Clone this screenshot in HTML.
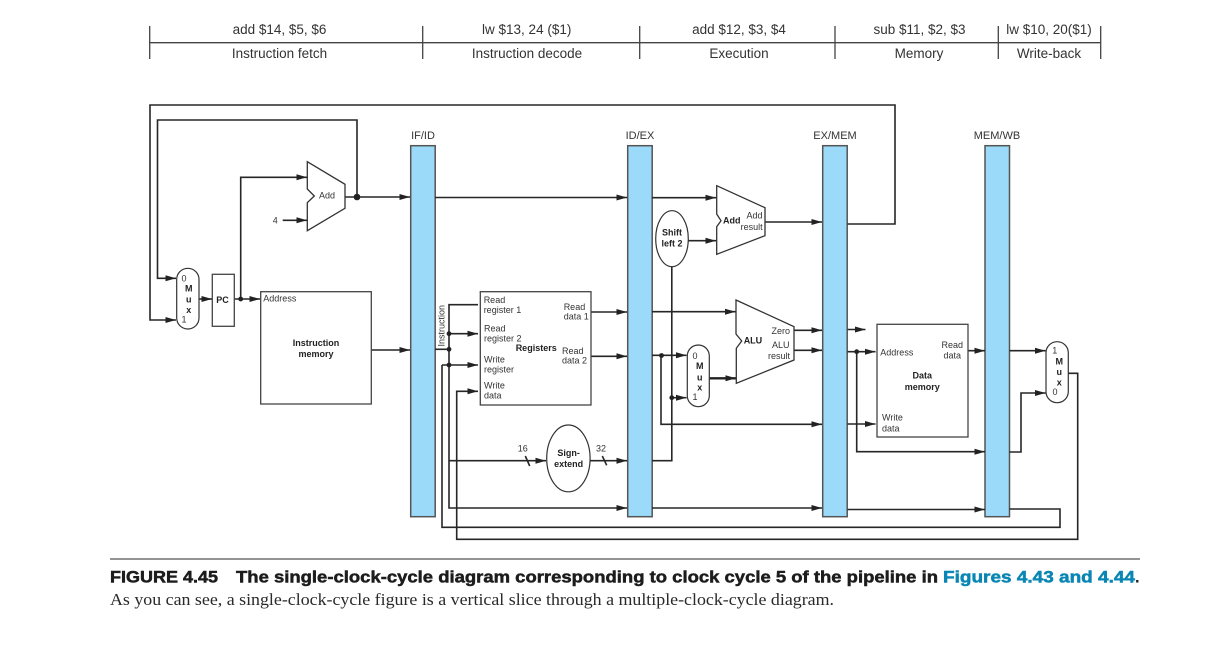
<!DOCTYPE html>
<html>
<head>
<meta charset="utf-8">
<title>Figure 4.45</title>
<style>
html,body{margin:0;padding:0;background:#fff;width:1215px;height:661px;overflow:hidden}
svg{display:block}
text{font-family:"Liberation Sans",sans-serif;fill:#333}
.h{font-size:13.5px;text-anchor:middle}
.r{font-size:11px;text-anchor:middle}
.s{font-size:9px}
.b{font-size:9px;font-weight:bold;fill:#222}
.m{text-anchor:middle}
.w{fill:none;stroke:#262626;stroke-width:1.6}
.a{marker-end:url(#a)}
.bar{fill:#9bdaf8;stroke:#555;stroke-width:1.5}
.box{fill:#fff;stroke:#444;stroke-width:1.3}
.d{fill:#222}
</style>
</head>
<body>
<svg width="1215" height="661" viewBox="0 0 1215 661" xmlns="http://www.w3.org/2000/svg">
<defs>
<marker id="a" markerUnits="userSpaceOnUse" markerWidth="12" markerHeight="8" refX="10.5" refY="4" orient="auto">
<path d="M0,1 L10.5,4 L0,7 Z" fill="#222"/>
</marker>
</defs>
<rect width="1215" height="661" fill="#fff"/>

<!-- top timeline -->
<g fill="none" stroke="#444" stroke-width="1.3">
<path d="M149.7,42.7H1100.7"/>
<path d="M149.7,26V59M422.7,26V59M639.7,26V59M835,26V59M998.3,26V59M1100.7,26V59"/>
</g>
<text class="h" x="279.5" y="34">add $14, $5, $6</text>
<text class="h" x="526.7" y="34">lw $13, 24 ($1)</text>
<text class="h" x="739" y="34">add $12, $3, $4</text>
<text class="h" x="919.5" y="34">sub $11, $2, $3</text>
<text class="h" x="1049" y="34">lw $10, 20($1)</text>
<text class="h" x="279.5" y="58">Instruction fetch</text>
<text class="h" x="527" y="58">Instruction decode</text>
<text class="h" x="739" y="58">Execution</text>
<text class="h" x="919" y="58">Memory</text>
<text class="h" x="1049" y="58">Write-back</text>

<!-- pipeline registers -->
<rect class="bar" x="410.7" y="145.7" width="24.5" height="371"/>
<rect class="bar" x="627.7" y="145.7" width="24.5" height="371"/>
<rect class="bar" x="822.7" y="145.7" width="24.5" height="371"/>
<rect class="bar" x="985" y="145.7" width="24.5" height="371"/>
<text class="r" x="423" y="139">IF/ID</text>
<text class="r" x="640" y="139">ID/EX</text>
<text class="r" x="835" y="139">EX/MEM</text>
<text class="r" x="997" y="139">MEM/WB</text>

<!-- wires -->
<g class="w">
<path d="M847.5,224H895V105H150V320H176" class="w a"/>
<path d="M357,197V120H157.5V278.3H176" class="w a"/>
<path d="M240.7,299V177.3H307" class="w a"/>
<path d="M282.7,220.3H307" class="w a"/>
<path d="M345,197H410" class="w a"/>
<path d="M199,299H212" class="w a"/>
<path d="M234.3,299H260" class="w a"/>
<path d="M371.3,350H410" class="w a"/>
<path d="M435,197.5H627" class="w a"/>
<path d="M435,349.3H449"/>
<path d="M478,304.7H449V508H627" class="w a"/>
<path d="M449,333.7H478" class="w a"/>
<path d="M449,365H478" class="w a"/>
<path d="M442,365H449M442,365V527.3H1060V509H1009.5"/>
<path d="M1068,373.3H1077.7V539.3H456.7V391.3H478" class="w a"/>
<path d="M591,312H627" class="w a"/>
<path d="M591,356.3H627" class="w a"/>
<path d="M449,460.7H546" class="w a"/>
<path d="M590,460.7H627" class="w a"/>
<path d="M525.3,456L529.7,466M602.3,456L606.7,465.3"/>
<path d="M652,197.7H716" class="w a"/>
<path d="M688,240.7H716" class="w a"/>
<path d="M652,460.7H671.8V266.7"/>
<path d="M671.8,397.7H686.5" class="w a"/>
<path d="M652,311.7H735.5" class="w a"/>
<path d="M652,355.3H686.5" class="w a"/>
<path d="M661,355.3V424.3H822" class="w a"/>
<path d="M652,508H822" class="w a"/>
<path d="M765,222H822" class="w a"/>
<path d="M794,330.3H822" class="w a"/>
<path d="M794,350.3H822" class="w a"/>
<path d="M847.5,329.5H865.5" class="w a"/>
<path d="M847.5,351.7H875.5" class="w a"/>
<path d="M856.7,351.7V451.7H985" class="w a"/>
<path d="M847.5,424H875.5" class="w a"/>
<path d="M847.5,509.5H985" class="w a"/>
<path d="M968,350.7H985" class="w a"/>
<path d="M1009.5,350.7H1045.5" class="w a"/>
<path d="M1009.5,452H1021V393H1045.5" class="w a"/>
</g>
<path d="M709,378.3H736" fill="none" stroke="#222" stroke-width="2.4" marker-end="url(#a)"/>

<!-- dots -->
<circle class="d" cx="357" cy="197" r="3.3"/>
<circle class="d" cx="240.7" cy="299" r="2.4"/>
<circle class="d" cx="449" cy="333.7" r="2.4"/>
<circle class="d" cx="449" cy="349.3" r="2.4"/>
<circle class="d" cx="449" cy="365" r="2.4"/>
<circle class="d" cx="661.5" cy="355.5" r="2.4"/>
<circle class="d" cx="671.8" cy="397.7" r="2.4"/>
<circle class="d" cx="856.7" cy="351.7" r="2.4"/>

<!-- adders / ALU -->
<g fill="#fff" stroke="#333" stroke-width="1.3">
<path d="M307.3,161.7L345,184.3V208.3L307.3,230.7V202.7L314.3,196L307.3,189Z"/>
<path d="M716.7,185.7L765,207.7V235.7L716.7,254.3V226.7L721,220.7L716.7,214Z"/>
<path d="M736,300L794,326.7V360L736.3,383.3V348.3L741.7,341L736,334Z"/>
</g>

<!-- boxes -->
<rect class="box" x="212.3" y="274.3" width="22" height="52"/>
<rect class="box" x="260.7" y="291.7" width="110.6" height="112.3"/>
<rect class="box" x="480.3" y="291.7" width="110.7" height="113.3"/>
<rect class="box" x="877" y="324.3" width="91" height="112.7"/>

<!-- muxes -->
<g fill="#fff" stroke="#333" stroke-width="1.2">
<rect x="176.7" y="268.3" width="22.3" height="60.7" rx="11.1" ry="11.1"/>
<rect x="687.3" y="345" width="22" height="61.7" rx="11" ry="11"/>
<rect x="1046" y="341.7" width="22.3" height="61" rx="11.1" ry="11.1"/>
<ellipse cx="672" cy="238.7" rx="16.3" ry="28"/>
<ellipse cx="568.4" cy="458.4" rx="21.7" ry="33.4"/>
</g>

<!-- labels -->
<text class="s m" x="327" y="198.7">Add</text>
<text class="s m" x="275.3" y="223.3">4</text>
<text class="s m" x="184" y="281.7">0</text>
<text class="b m" x="188.7" y="291.7">M</text>
<text class="b m" x="188.7" y="302.7">u</text>
<text class="b m" x="188.7" y="313">x</text>
<text class="s m" x="184" y="322.3">1</text>
<text class="b m" x="222.5" y="303">PC</text>
<text class="s" x="263.3" y="301.6">Address</text>
<text class="b m" x="316" y="346">Instruction</text>
<text class="b m" x="316" y="357">memory</text>
<text class="s" transform="translate(444.5,346.5) rotate(-90)">Instruction</text>

<text class="s" x="483.7" y="303">Read</text>
<text class="s" x="483.7" y="313">register 1</text>
<text class="s" x="484" y="331.7">Read</text>
<text class="s" x="484" y="341.7">register 2</text>
<text class="s" x="484" y="362.7">Write</text>
<text class="s" x="484" y="372.7">register</text>
<text class="s" x="484" y="388.7">Write</text>
<text class="s" x="484" y="398.7">data</text>
<text class="b" x="515.7" y="351">Registers</text>
<text class="s" x="563.7" y="310">Read</text>
<text class="s" x="563.7" y="319.3">data 1</text>
<text class="s" x="562" y="354">Read</text>
<text class="s" x="562" y="363.3">data 2</text>
<text class="b m" x="568.6" y="456">Sign-</text>
<text class="b m" x="568.6" y="467">extend</text>
<text class="s m" x="522.7" y="451.7">16</text>
<text class="s m" x="601" y="451.7">32</text>

<text class="b m" x="672" y="235.7">Shift</text>
<text class="b m" x="672" y="246.7">left 2</text>
<text class="b" x="723" y="223.7">Add</text>
<text class="s" x="762.5" y="218.7" text-anchor="end">Add</text>
<text class="s" x="762.7" y="230" text-anchor="end">result</text>

<text class="s m" x="695" y="359">0</text>
<text class="b m" x="699.7" y="369">M</text>
<text class="b m" x="699.7" y="380.7">u</text>
<text class="b m" x="699.7" y="390.7">x</text>
<text class="s m" x="695" y="400">1</text>

<text class="b" x="743.7" y="343.7">ALU</text>
<text class="s" x="790" y="334" text-anchor="end">Zero</text>
<text class="s" x="789.5" y="348" text-anchor="end">ALU</text>
<text class="s" x="790" y="359" text-anchor="end">result</text>

<text class="s" x="880.3" y="355.7">Address</text>
<text class="s m" x="952.3" y="348">Read</text>
<text class="s m" x="952.3" y="358.7">data</text>
<text class="b m" x="922.3" y="378.7">Data</text>
<text class="b m" x="922.3" y="390">memory</text>
<text class="s" x="882" y="420.7">Write</text>
<text class="s" x="882" y="431.7">data</text>

<text class="s m" x="1054.7" y="353.7">1</text>
<text class="b m" x="1059.3" y="364.7">M</text>
<text class="b m" x="1059.3" y="375">u</text>
<text class="b m" x="1059.3" y="385.7">x</text>
<text class="s m" x="1055" y="395">0</text>

<!-- caption -->
<path d="M110,559H1140" stroke="#555" stroke-width="1.2"/>
<g style="font-weight:bold;font-size:16.5px">
<text x="110" y="582.7" textLength="108" lengthAdjust="spacingAndGlyphs" style="fill:#1c1c1c;stroke:#1c1c1c;stroke-width:.5">FIGURE 4.45</text>
<text x="236" y="582.7" textLength="702" lengthAdjust="spacingAndGlyphs" style="fill:#1c1c1c;stroke:#1c1c1c;stroke-width:.5">The single-clock-cycle diagram corresponding to clock cycle 5 of the pipeline in</text>
<text x="943" y="582.7" textLength="192" lengthAdjust="spacingAndGlyphs" style="fill:#0a86b4;stroke:#0a86b4;stroke-width:.5">Figures 4.43 and 4.44</text>
<text x="1135" y="582.7" style="fill:#1c1c1c">.</text>
</g>
<text x="110" y="605" textLength="724" lengthAdjust="spacingAndGlyphs" style="font-family:'Liberation Serif',serif;font-size:16.5px;fill:#2a2a2a">As you can see, a single-clock-cycle figure is a vertical slice through a multiple-clock-cycle diagram.</text>
</svg>
</body>
</html>
